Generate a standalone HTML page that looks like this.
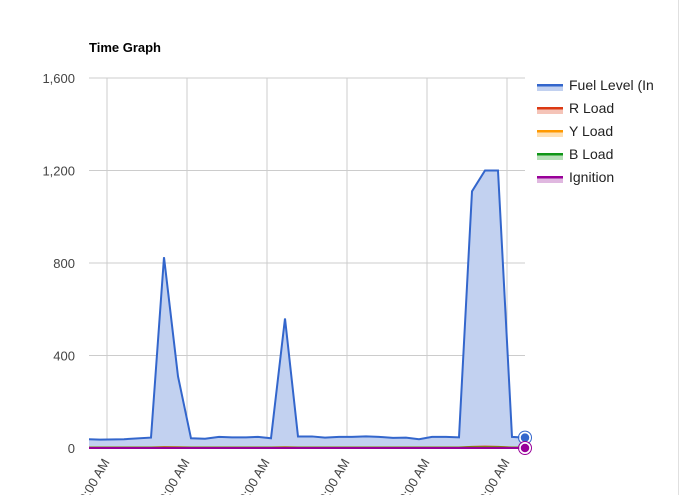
<!DOCTYPE html>
<html><head><meta charset="utf-8">
<style>
html,body{margin:0;padding:0;background:#fff;width:691px;height:495px;overflow:hidden;}
svg{display:block;font-family:"Liberation Sans",Arial,sans-serif;overflow:hidden;}
</style></head>
<body>
<svg id="chart" width="691" height="495">
<line x1="678.5" y1="0" x2="678.5" y2="495" stroke="#e0e0e0" stroke-width="1"/>
<text x="89" y="52" font-size="13" font-weight="bold" fill="#000">Time Graph</text>
<g id="grid"></g>
<g id="series"></g>
<g id="axes"></g>
<g id="legend"></g>
</svg>
<script>
const times=[46.5,54.75,72.75,93,102.75,113.25,123,133.5,144,153.75,164.25,173.25,183,193.5,203.25,213.75,223.5,234,243.75,254.25,264,274.5,284.25,294,303.75,314.25,324,333.75,343.5,353.25,363.75,373.5];
const fuel=[38,36,38,45,825,310,42,40,48,46,46,48,42,560,50,50,45,48,48,50,48,44,45,38,48,48,46,1110,1200,1200,48,45];
const rLoad=[2,2,2,2,4,3,2,2,2,2,2,2,2,3,2,2,2,2,2,2,2,2,2,2,2,2,2,5,6,5,2,2];
const yLoad=[1,1,1,1,2,2,1,1,1,1,1,1,1,2,1,1,1,1,1,1,1,1,1,1,1,1,1,3,3,3,1,1];
const bLoad=[1,1,1,1,1,1,1,1,1,1,1,1,1,1,1,1,1,1,1,1,1,1,1,1,1,1,1,2,2,2,1,1];
const ignition=[0,0,0,0,0,0,0,0,0,0,0,0,0,0,0,0,0,0,0,0,0,0,0,0,0,0,0,0,0,0,0,0];
const yTicks=[0,400,800,1200,1600];
const yTickLabels=["0","400","800","1,200","1,600"];
const xTicks=[60,120,180,240,300,360];
const xTickLabels=["6:00:00 AM","7:00:00 AM","8:00:00 AM","9:00:00 AM","10:00:00 AM","11:00:00 AM"];
const legendNames=["Fuel Level (In","R Load","Y Load","B Load","Ignition"];
const legendLine=["#3366cc","#dc3912","#ff9900","#109618","#990099"];
const legendFill=["#c2d1f0","#f5c4b8","#ffe0b3","#b7dfb9","#e0b8e0"];

const X0=89,X1=525,Y0=448,Y1=78;
const tMin=46.5,tMax=373.5;
const xs=t=>X0+(t-tMin)/(tMax-tMin)*(X1-X0);
const ys=v=>Y0-v/1600*(Y0-Y1);
const NS="http://www.w3.org/2000/svg";
function mk(tag,attrs,parent){const e=document.createElementNS(NS,tag);for(const k in attrs)e.setAttribute(k,attrs[k]);parent.appendChild(e);return e;}
const grid=document.getElementById('grid'),series=document.getElementById('series'),axes=document.getElementById('axes'),legend=document.getElementById('legend');

yTicks.forEach((v,i)=>{
  const l=mk('line',{x1:X0,x2:X1,y1:ys(v),y2:ys(v),stroke:'#cccccc','stroke-width':1},grid);
  
  
  const t=mk('text',{x:75,y:ys(v)+5,'text-anchor':'end','font-size':13,fill:'#444'},axes);
  t.textContent=yTickLabels[i];
  
  
});
xTicks.forEach((v,i)=>{
  const l=mk('line',{x1:xs(v),x2:xs(v),y1:Y1,y2:Y0,stroke:'#cccccc','stroke-width':1},grid);
  
  
  const x=xs(v)+3,y=462;
  const t=mk('text',{x:x,y:y,'text-anchor':'end','font-size':13,fill:'#444',transform:`rotate(-60 ${x} ${y})`},axes);
  t.textContent=xTickLabels[i];
  
  
});

const allSeries=[fuel,rLoad,yLoad,bLoad,ignition];
const sNames=['fuel-level','r-load','y-load','b-load','ignition'];
allSeries.forEach((d,si)=>{
  const pts=d.map((v,i)=>xs(times[i])+','+ys(v)).join(' ');
  const area=mk('polygon',{points:xs(times[0])+','+Y0+' '+pts+' '+xs(times[times.length-1])+','+Y0,fill:legendFill[si],'fill-opacity':si===0?1:0.6},series);
  
  
  const line=mk('polyline',{points:pts,fill:'none',stroke:legendLine[si],'stroke-width':2},series);
  
  
});
[[fuel,0],[ignition,4]].forEach(([d,si])=>{
  const n=d.length-1;
  const c=mk('circle',{cx:xs(times[n]),cy:ys(d[n]),r:5,fill:legendLine[si],stroke:'#fff','stroke-width':1.5},series);
  
  
  const c2=mk('circle',{cx:xs(times[n]),cy:ys(d[n]),r:6.5,fill:'none',stroke:legendLine[si],'stroke-width':1},series);
  
  
});

legendNames.forEach((n,i)=>{
  const y=85+i*23;
  const g=mk('g',{},legend);
  
  
  mk('rect',{x:537,y:y,width:26,height:6,fill:legendFill[i]},g);
  mk('rect',{x:537,y:y-1,width:26,height:2.5,fill:legendLine[i]},g);
  const t=mk('text',{x:569,y:y+5,'font-size':14,fill:'#222'},g);
  t.textContent=n;
});
</script>
</body></html>
